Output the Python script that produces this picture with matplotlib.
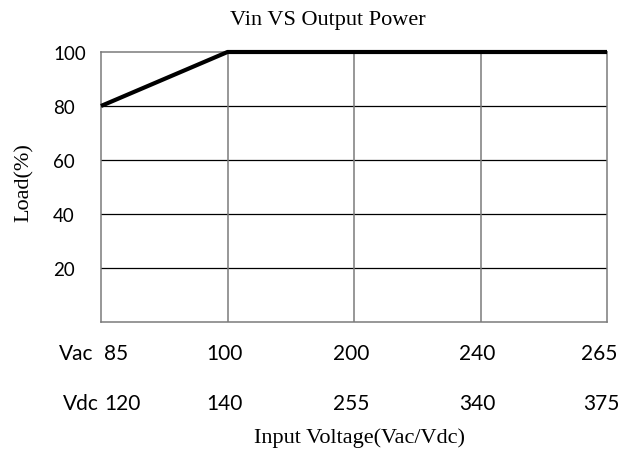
import matplotlib
matplotlib.use("Agg")
import matplotlib.pyplot as plt
from matplotlib.transforms import ScaledTranslation, blended_transform_factory

# data
vac_labels = ["85", "100", "200", "240", "265"]
vdc_labels = ["120", "140", "255", "340", "375"]
load_pct = [80, 100, 100, 100, 100]
y_ticks = [20, 40, 60, 80, 100]

SANS = "Lato"
SERIF = "Liberation Serif"
W, H = 633, 450

fig = plt.figure(figsize=(W / 100, H / 100), dpi=100)
ax = fig.add_axes([101 / W, 1 - 322 / H, 506 / W, 270 / H])

x = list(range(len(vac_labels)))
ax.plot(x, load_pct, color="black", linewidth=3.0, solid_capstyle="butt",
        zorder=5, clip_on=False)

ax.set_xlim(0, len(vac_labels) - 1)
ax.set_ylim(0, 100)

# grid
for yv in y_ticks[:-1]:
    ax.axhline(yv, color="black", linewidth=0.9, zorder=1)
for xv in x[1:-1]:
    ax.axvline(xv, color="#7a7a7a", linewidth=1.1, zorder=1)

for side in ["left", "right", "top", "bottom"]:
    ax.spines[side].set_color("#7a7a7a")
    ax.spines[side].set_linewidth(1.1)

ax.set_xticks([])
ax.set_yticks([])


def px(dx, dy=0):
    return ScaledTranslation(dx / 100, -dy / 100, fig.dpi_scale_trans)


# y labels, left aligned like the source
ty = blended_transform_factory(fig.transFigure, ax.transData)
for yv in y_ticks:
    ax.text(53 / W, yv, str(yv), transform=ty + px(0, 3), ha="left",
            va="center", fontfamily=SANS, fontsize=13.5)

# two rows of x labels
tr = blended_transform_factory(ax.transData, fig.transFigure)
rows = [("Vac", vac_labels, 1 - 354 / H, 93, 10),
        ("Vdc", vdc_labels, 1 - 404 / H, 99, 13)]
for prefix, labels, yf, pre_x, last_dx in rows:
    n = len(labels)
    for i, lab in enumerate(labels):
        if i == 0:
            t, ha = tr + px(3), "left"
        elif i == n - 1:
            t, ha = tr + px(last_dx), "right"
        else:
            t, ha = tr + px(-3), "center"
        ax.text(i, yf, lab, transform=t, ha=ha, va="center",
                fontfamily=SANS, fontsize=15)
    fig.text(pre_x / W, yf, prefix, ha="right", va="center",
             fontfamily=SANS, fontsize=15)

fig.text(328 / W, 1 - 21 / H, "Vin VS Output Power", ha="center",
         va="center", fontfamily=SERIF, fontsize=16)
fig.text(24 / W, 1 - 183 / H, "Load(%)", ha="center", va="center",
         rotation=90, fontfamily=SERIF, fontsize=16)
fig.text(360 / W, 1 - 443 / H, "Input Voltage(Vac/Vdc)", ha="center",
         va="baseline", fontfamily=SERIF, fontsize=16)

fig.savefig("out.png", dpi=100)
